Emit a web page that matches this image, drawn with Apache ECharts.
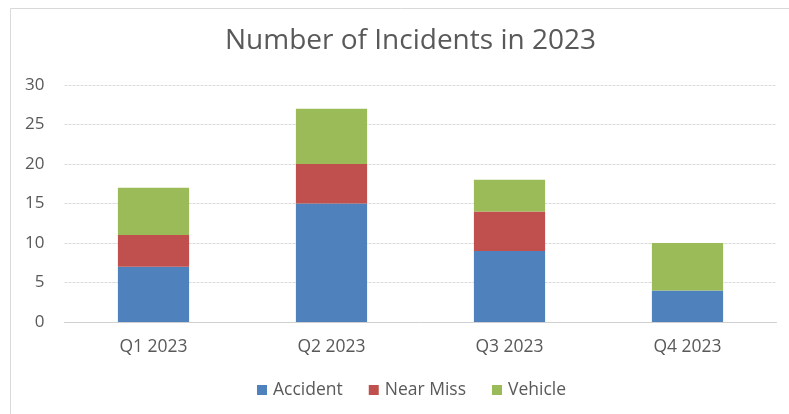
<!DOCTYPE html>
<html>
<head>
<meta charset="utf-8">
<script src="https://cdn.jsdelivr.net/npm/echarts@6/dist/echarts.min.js"></script>
<style>
  html, body { margin: 0; padding: 0; background: #ffffff; }
  #chart { width: 789px; height: 414px; }
</style>
</head>
<body>
<div id="chart"></div>
<script>
// Quarterly incident counts, stacked by type
const quarters = ['Q1 2023', 'Q2 2023', 'Q3 2023', 'Q4 2023'];
const accident = [7, 15, 9, 4];
const nearMiss = [4, 5, 5, 0];
const vehicle = [6, 7, 4, 6];
const seriesNames = ['Accident', 'Near Miss', 'Vehicle'];
const seriesColors = ['#4F81BD', '#C0504D', '#9BBB59'];

const font = '"Open Sans", Lato, sans-serif';
const textGray = '#595959';

const chart = echarts.init(document.getElementById('chart'), null, { renderer: 'canvas' });

const values = [accident, nearMiss, vehicle];

chart.setOption({
  animation: false,
  backgroundColor: '#ffffff',
  graphic: [{
    type: 'rect',
    shape: { x: 10.5, y: 8.5, width: 790, height: 420 },
    style: { fill: 'none', stroke: '#d9d9d9', lineWidth: 1 },
    silent: true
  }],
  title: {
    text: 'Number of Incidents in 2023',
    left: 220,
    top: 22,
    textStyle: { fontFamily: font, fontSize: 28, fontWeight: 'normal', color: textGray }
  },
  legend: {
    bottom: 10,
    left: 252,
    itemWidth: 10,
    itemHeight: 10,
    itemGap: 26,
    icon: 'rect',
    textStyle: { fontFamily: font, fontSize: 17.5, color: textGray, padding: [0, 0, 0, 1] }
  },
  grid: { left: 64.5, right: 12.5, top: 85, bottom: 92, containLabel: false },
  xAxis: {
    type: 'category',
    data: quarters,
    axisLine: { show: true, lineStyle: { color: '#d0d0d0' } },
    axisTick: { show: false },
    axisLabel: { fontFamily: font, fontSize: 17.5, color: textGray, margin: 16 }
  },
  yAxis: {
    type: 'value',
    min: 0,
    max: 30,
    interval: 5,
    axisLine: { show: false },
    axisTick: { show: false },
    splitLine: { lineStyle: { color: '#d9d9d9', type: [3, 1], width: 1 } },
    axisLabel: { fontFamily: font, fontSize: 17, color: textGray, margin: 20 }
  },
  series: seriesNames.map((name, i) => ({
    name: name,
    type: 'bar',
    stack: 'total',
    barWidth: '40%',
    data: values[i],
    itemStyle: { color: seriesColors[i] }
  }))
});
</script>
</body>
</html>
